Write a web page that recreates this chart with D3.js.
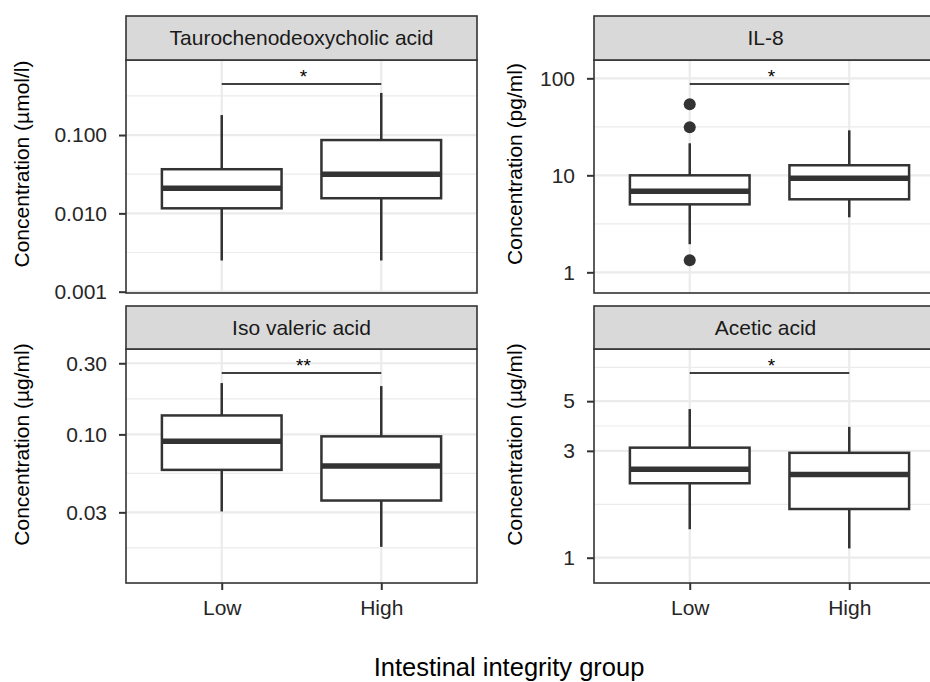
<!DOCTYPE html>
<html>
<head>
<meta charset="utf-8">
<script src="https://cdn.jsdelivr.net/npm/d3@7"></script>
<style>
  body { margin: 0; background: #fff; }
  text { font-family: "Liberation Sans", Arial, sans-serif; }
</style>
</head>
<body>
<div id="chart"></div>
<script>
// groups on the x axis
const groups = ["Low", "High"];

// one entry per facet
const panelTitles = ["Taurochenodeoxycholic acid", "IL-8", "Iso valeric acid", "Acetic acid"];
const yTitles = ["Concentration (µmol/l)", "Concentration (pg/ml)", "Concentration (µg/ml)", "Concentration (µg/ml)"];
const yLimits = [[0.000962, 0.908], [0.612, 154.5], [0.01007, 0.374], [0.771, 8.55]];
const yBreaks = [[0.001, 0.01, 0.1, 1], [1, 10, 100], [0.01, 0.03, 0.1, 0.3, 1], [1, 3, 5, 10]];
const yBreakLabels = [["0.001", "0.010", "0.100", "1.000"], ["1", "10", "100"], ["0.01", "0.03", "0.10", "0.30", "1.00"], ["1", "3", "5", "10"]];

// box stats: [lower whisker, q1, median, q3, upper whisker] for Low, High
const tcdcaBoxes = [[0.0025, 0.0116, 0.0209, 0.0366, 0.180], [0.0025, 0.0156, 0.0316, 0.0863, 0.345]];
const il8Boxes = [[1.95, 5.02, 6.84, 10.0, 21.4], [3.69, 5.66, 9.31, 12.7, 29.1]];
const isoBoxes = [[0.0304, 0.0578, 0.0899, 0.134, 0.221], [0.0176, 0.036, 0.0614, 0.097, 0.211]];
const aceticBoxes = [[1.34, 2.15, 2.48, 3.10, 4.61], [1.10, 1.65, 2.35, 2.94, 3.84]];
const boxStats = [tcdcaBoxes, il8Boxes, isoBoxes, aceticBoxes];

// outliers: [panel, group, value]
const outliers = [[1, "Low", 54], [1, "Low", 31.3], [1, "Low", 1.33]];

// significance brackets
const sigHeights = [0.448, 87.3, 0.258, 6.68];
const sigLabels = ["*", "*", "**", "*"];

const width = 930;
const height = 682;

const svg = d3.select("#chart")
  .append("svg")
  .attr("width", width)
  .attr("height", height)
  .style("background", "#fff");

const panelW = 351;
const cols = [126, 594];
const rows = [
  { strip: 16, top: 60, bottom: 293, titleY: 164 },
  { strip: 306, top: 349, bottom: 583, titleY: 444.5 }
];
const yTitleX = [29, 522];
// strip labels sit a touch left of centre on the right column (panel runs off the edge)
const stripShift = [0, -4];
const dark = "#333333";

panelTitles.forEach((title, i) => {
  const col = i % 2;
  const row = Math.floor(i / 2);
  const x0 = cols[col];
  const x1 = x0 + panelW;
  const r = rows[row];

  const x = d3.scalePoint().domain(groups).range([x0, x1]).padding(0.6);
  const y = d3.scaleLog().domain(yLimits[i]).range([r.bottom, r.top]);
  const [lo, hi] = yLimits[i];
  const inRange = v => v >= lo && v <= hi;

  const g = svg.append("g");

  const clipId = "clip" + i;
  g.append("clipPath").attr("id", clipId)
    .append("rect")
    .attr("x", x0).attr("y", r.top)
    .attr("width", panelW).attr("height", r.bottom - r.top);

  const plot = g.append("g").attr("clip-path", `url(#${clipId})`);

  // grid
  const minor = d3.pairs(yBreaks[i]).map(([a, b]) => Math.sqrt(a * b)).filter(inRange);
  plot.selectAll(".minor")
    .data(minor)
    .enter()
    .append("line")
    .attr("x1", x0).attr("x2", x1)
    .attr("y1", d => y(d)).attr("y2", d => y(d))
    .attr("stroke", "#ebebeb")
    .attr("stroke-width", 1.2);

  plot.selectAll(".major")
    .data(yBreaks[i].filter(inRange))
    .enter()
    .append("line")
    .attr("x1", x0).attr("x2", x1)
    .attr("y1", d => y(d)).attr("y2", d => y(d))
    .attr("stroke", "#ebebeb")
    .attr("stroke-width", 2.2);

  plot.selectAll(".vgrid")
    .data(groups)
    .enter()
    .append("line")
    .attr("x1", d => x(d)).attr("x2", d => x(d))
    .attr("y1", r.top).attr("y2", r.bottom)
    .attr("stroke", "#ebebeb")
    .attr("stroke-width", 2.2);

  // boxes
  const bw = x.step() * 0.75;
  const boxes = groups.map((grp, j) => ({ grp, s: boxStats[i][j] }));

  const bg = plot.selectAll(".box")
    .data(boxes)
    .enter()
    .append("g");

  bg.append("line")
    .attr("x1", d => x(d.grp)).attr("x2", d => x(d.grp))
    .attr("y1", d => y(d.s[4])).attr("y2", d => y(d.s[3]))
    .attr("stroke", dark).attr("stroke-width", 2.5);

  bg.append("line")
    .attr("x1", d => x(d.grp)).attr("x2", d => x(d.grp))
    .attr("y1", d => y(d.s[1])).attr("y2", d => y(d.s[0]))
    .attr("stroke", dark).attr("stroke-width", 2.5);

  bg.append("rect")
    .attr("x", d => x(d.grp) - bw / 2)
    .attr("width", bw)
    .attr("y", d => y(d.s[3]))
    .attr("height", d => y(d.s[1]) - y(d.s[3]))
    .attr("fill", "#fff")
    .attr("stroke", dark)
    .attr("stroke-width", 2.5);

  bg.append("line")
    .attr("x1", d => x(d.grp) - bw / 2).attr("x2", d => x(d.grp) + bw / 2)
    .attr("y1", d => y(d.s[2])).attr("y2", d => y(d.s[2]))
    .attr("stroke", dark).attr("stroke-width", 5.5);

  plot.selectAll(".out")
    .data(outliers.filter(o => o[0] === i))
    .enter()
    .append("circle")
    .attr("cx", d => x(d[1]))
    .attr("cy", d => y(d[2]))
    .attr("r", 6)
    .attr("fill", dark);

  // significance bracket
  const sy = y(sigHeights[i]);
  plot.append("line")
    .attr("x1", x(groups[0])).attr("x2", x(groups[1]))
    .attr("y1", sy).attr("y2", sy)
    .attr("stroke", "#000").attr("stroke-width", 1.6);

  plot.append("text")
    .attr("x", (x(groups[0]) + x(groups[1])) / 2 + 2)
    .attr("y", sy - 1)
    .attr("text-anchor", "middle")
    .attr("font-size", 19)
    .attr("fill", "#000")
    .text(sigLabels[i]);

  // panel border
  g.append("rect")
    .attr("x", x0).attr("y", r.top)
    .attr("width", panelW).attr("height", r.bottom - r.top)
    .attr("fill", "none")
    .attr("stroke", dark)
    .attr("stroke-width", 1.6);

  // strip
  g.append("rect")
    .attr("x", x0).attr("y", r.strip)
    .attr("width", panelW).attr("height", r.top - r.strip)
    .attr("fill", "#d9d9d9")
    .attr("stroke", dark)
    .attr("stroke-width", 1.6);

  g.append("text")
    .attr("x", (x0 + x1) / 2 + stripShift[col])
    .attr("y", (r.strip + r.top) / 2)
    .attr("dy", "0.35em")
    .attr("text-anchor", "middle")
    .attr("font-size", 21)
    .attr("fill", "#1a1a1a")
    .text(title);

  // y axis
  const yAxis = d3.axisLeft(y)
    .tickValues(yBreaks[i].filter(inRange))
    .tickFormat(d => yBreakLabels[i][yBreaks[i].indexOf(d)])
    .tickSize(7)
    .tickPadding(12)
    .tickSizeOuter(0);

  const ya = g.append("g")
    .attr("transform", `translate(${x0},0)`)
    .call(yAxis);
  ya.select(".domain").remove();
  ya.selectAll("line").attr("stroke", dark).attr("stroke-width", 2);
  ya.selectAll("text")
    .attr("font-size", 21)
    .attr("font-family", "Liberation Sans, Arial, sans-serif")
    .attr("fill", "#262626");

  // y title
  svg.append("text")
    .attr("transform", `translate(${yTitleX[col]},${r.titleY}) rotate(-90)`)
    .attr("text-anchor", "middle")
    .attr("font-size", 21)
    .attr("fill", "#000")
    .text(yTitles[i]);

  // x axis only on the bottom row
  if (row === 1) {
    const xAxis = d3.axisBottom(x)
      .tickSize(7)
      .tickPadding(10)
      .tickSizeOuter(0);
    const xa = g.append("g")
      .attr("transform", `translate(0,${r.bottom})`)
      .call(xAxis);
    xa.select(".domain").remove();
    xa.selectAll("line").attr("stroke", dark).attr("stroke-width", 2);
    xa.selectAll("text")
      .attr("font-size", 21)
      .attr("font-family", "Liberation Sans, Arial, sans-serif")
      .attr("fill", "#262626");
  }
});

// shared x title
svg.append("text")
  .attr("x", 509)
  .attr("y", 676)
  .attr("text-anchor", "middle")
  .attr("font-size", 25.5)
  .attr("fill", "#000")
  .text("Intestinal integrity group");
</script>
</body>
</html>
